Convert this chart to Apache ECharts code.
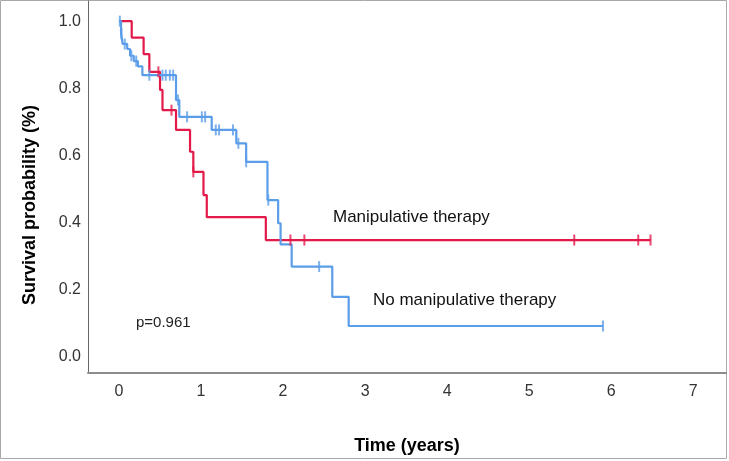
<!DOCTYPE html>
<html>
<head>
<meta charset="utf-8">
<script src="https://cdn.jsdelivr.net/npm/echarts@6/dist/echarts.min.js"></script>
<style>
  html, body { margin: 0; padding: 0; background: #fff; }
  #chart { width: 729px; height: 461px; }
</style>
</head>
<body>
<div id="chart"></div>
<script>
// Kaplan-Meier steps: [time in years, survival]
const manipTimes = [0, 0.155, 0.30, 0.37, 0.50, 0.53, 0.695, 0.866, 0.906, 1.03, 1.07, 1.79, 6.48]
const manipSurv  = [1, 0.951, 0.902, 0.849, 0.795, 0.735, 0.676, 0.611, 0.551, 0.482, 0.416, 0.348, 0.348]
const manipCensorTimes = [0.48, 0.64, 0.906, 2.09, 2.26, 5.55, 6.33, 6.48]
const manipCensorSurv  = [0.849, 0.735, 0.551, 0.348, 0.348, 0.348, 0.348, 0.348]

const noManipTimes = [0, 0.025, 0.045, 0.10, 0.135, 0.18, 0.23, 0.285, 0.695, 0.735, 1.13, 1.43, 1.55, 1.81, 1.94, 1.97, 2.105, 2.60, 2.80, 5.90]
const noManipSurv  = [1, 0.963, 0.932, 0.917, 0.897, 0.881, 0.865, 0.839, 0.765, 0.715, 0.676, 0.636, 0.581, 0.467, 0.398, 0.335, 0.269, 0.179, 0.092, 0.092]
const noManipCensorTimes = [0.01, 0.03, 0.07, 0.15, 0.21, 0.37, 0.53, 0.57, 0.62, 0.66, 0.72, 0.83, 1.01, 1.05, 1.18, 1.22, 1.39, 1.455, 1.55, 1.82, 2.44, 5.90]
const noManipCensorSurv  = [1.0, 0.963, 0.932, 0.897, 0.881, 0.839, 0.839, 0.839, 0.839, 0.839, 0.765, 0.715, 0.715, 0.715, 0.676, 0.676, 0.676, 0.636, 0.581, 0.467, 0.269, 0.092]

const xTicks = [0, 1, 2, 3, 4, 5, 6, 7]
const yTicks = [0, 0.2, 0.4, 0.6, 0.8, 1.0]

const RED = '#e3194a'
const BLUE = '#5b9de8'
const FONT = '"Liberation Sans", Arial, sans-serif'

const zip = (a, b) => a.map((v, i) => [v, b[i]])

const chart = echarts.init(document.getElementById('chart'))

const stepLine = (name, data, color) => ({
  name,
  type: 'line',
  step: 'end',
  symbol: 'none',
  data,
  lineStyle: { color, width: 2.2 },
  z: 3
})

const censors = (name, data, color) => ({
  name,
  type: 'scatter',
  symbol: 'rect',
  symbolSize: [2, 11],
  data,
  itemStyle: { color },
  z: 4
})

chart.setOption({
  backgroundColor: '#ffffff',
  animation: false,
  grid: { left: 88, right: 3, top: 1, bottom: 88 },
  xAxis: {
    type: 'value',
    min: -0.378,
    max: 7.40,
    name: 'Time (years)',
    nameLocation: 'middle',
    nameGap: 64,
    nameTextStyle: { fontFamily: FONT, fontSize: 18, fontWeight: 'bold', color: '#000' },
    axisLine: { show: true, onZero: false, lineStyle: { color: '#8c8c8c', width: 2 } },
    axisTick: { show: false },
    splitLine: { show: false },
    axisLabel: {
      customValues: xTicks,
      margin: 11,
      fontFamily: FONT,
      fontSize: 16,
      color: '#333'
    }
  },
  yAxis: {
    type: 'value',
    min: -0.048,
    max: 1.06,
    axisLine: { show: true, onZero: false, lineStyle: { color: '#666', width: 1 } },
    axisTick: { show: false },
    splitLine: { show: false },
    axisLabel: {
      customValues: yTicks,
      margin: 7,
      fontFamily: FONT,
      fontSize: 16,
      color: '#333',
      formatter: v => v.toFixed(1)
    }
  },
  graphic: [
    {
      type: 'rect',
      z: -1,
      shape: { x: 0.5, y: 0.5, width: 726, height: 458 },
      style: { fill: 'none', stroke: '#a8a8a8', lineWidth: 1 }
    },
    {
      type: 'text',
      x: 30,
      y: 205,
      rotation: Math.PI / 2,
      style: {
        text: 'Survival probability (%)',
        font: 'bold 18px ' + FONT,
        fill: '#000',
        align: 'center',
        verticalAlign: 'middle'
      }
    },
    {
      type: 'text',
      x: 333,
      y: 217,
      style: { text: 'Manipulative therapy', font: '17px ' + FONT, fill: '#111', verticalAlign: 'middle' }
    },
    {
      type: 'text',
      x: 373,
      y: 300,
      style: { text: 'No manipulative therapy', font: '17px ' + FONT, fill: '#111', verticalAlign: 'middle' }
    },
    {
      type: 'text',
      x: 136,
      y: 323,
      style: { text: 'p=0.961', font: '15px ' + FONT, fill: '#222', verticalAlign: 'middle' }
    }
  ],
  series: [
    stepLine('Manipulative therapy', zip(manipTimes, manipSurv), RED),
    censors('Manipulative therapy censored', zip(manipCensorTimes, manipCensorSurv), RED),
    stepLine('No manipulative therapy', zip(noManipTimes, noManipSurv), BLUE),
    censors('No manipulative therapy censored', zip(noManipCensorTimes, noManipCensorSurv), BLUE)
  ]
})
</script>
</body>
</html>
